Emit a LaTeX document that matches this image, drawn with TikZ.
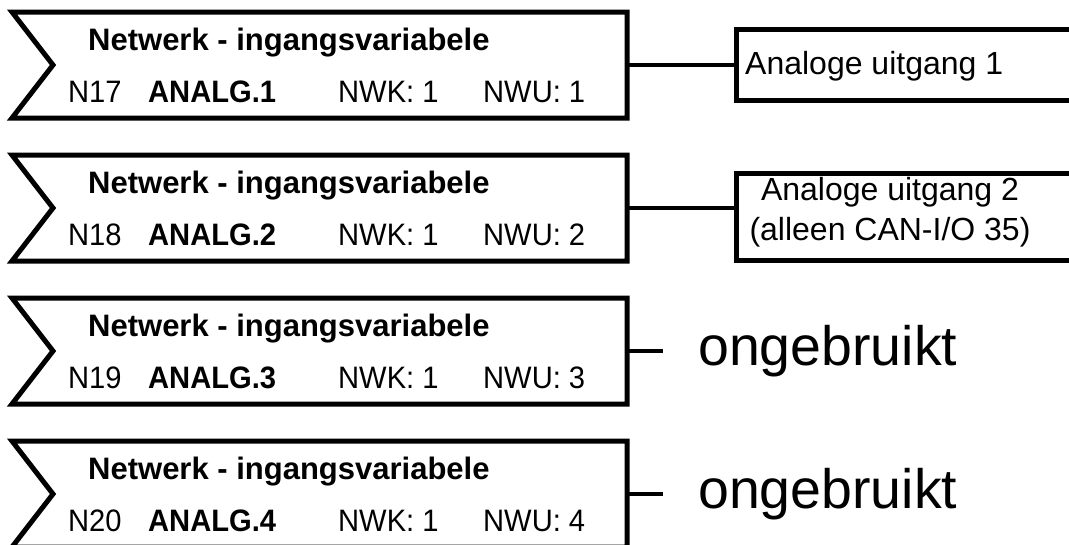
\documentclass[tikz,border=0pt]{standalone}
\usepackage{fontspec}
\usepackage{graphicx}
\setmainfont{Liberation Sans}
\newcommand{\narrowtxt}[1]{\scalebox{0.94}[1]{#1}}
\begin{document}
\begin{tikzpicture}[x=1pt,y=-1pt,
  blk/.style={draw=none,minimum width=615pt,minimum height=106pt,inner sep=0pt,outer sep=0pt,anchor=north west},
  outl/.style={line width=5pt,line join=miter},
  conn/.style={line width=4pt},
  obox/.style={draw,line width=5pt,minimum width=420pt,inner sep=0pt,outer sep=0pt,anchor=north west},
  hd/.style={font=\fontsize{31}{31}\selectfont\bfseries,anchor=base west,inner sep=0pt},
  txt/.style={font=\fontsize{31}{31}\selectfont,anchor=base west,inner sep=0pt},
  btxt/.style={font=\fontsize{31}{31}\selectfont\bfseries,anchor=base west,inner sep=0pt},
  otxt/.style={font=\fontsize{32}{32}\selectfont,inner sep=0pt},
  big/.style={font=\fontsize{55.5}{55.5}\selectfont,anchor=base west,inner sep=0pt}]
\clip (0,0) rectangle (1069,544);
\useasboundingbox (0,0) rectangle (1069,544);
\foreach \i/\t/\n/\w in {1/12/17/1,2/155/18/2,3/298/19/3,4/441/20/4}{
  \node[blk] (b\i) at (12,\t) {};
  \draw[outl] (b\i.north west) -- (b\i.north east) -- (b\i.south east) -- (b\i.south west) -- ([xshift=41pt]b\i.west) -- cycle;
  \node[hd] (h\i) at (88,\t+38) {Netwerk - ingangsvariabele};
  \node[txt] (n\i) at (68,\t+90) {\narrowtxt{N\n}};
  \node[btxt] (a\i) at (148,\t+90) {\narrowtxt{ANALG.\i}};
  \node[txt] (k\i) at (338,\t+90) {\narrowtxt{NWK: 1}};
  \node[txt] (u\i) at (483,\t+90) {\narrowtxt{NWU: \w}};
}
% output 1
\node[obox,minimum height=71pt] (o1) at (736,29) {};
\node[otxt,anchor=base west] (t1) at (745,74) {Analoge uitgang 1};
\draw[conn] (b1.east) -- (o1.west |- b1.east);
% output 2
\node[obox,minimum height=87pt] (o2) at (736,173) {};
\node[otxt,anchor=base] (t2a) at (890,200) {Analoge uitgang 2};
\node[otxt,anchor=base] (t2b) at (890,240) {(alleen CAN-I/O 35)};
\draw[conn] (b2.east) -- (o2.west |- b2.east);
% unused
\coordinate (e3) at (663,351);
\coordinate (e4) at (663,494);
\draw[conn] (b3.east) -- (e3);
\draw[conn] (b4.east) -- (e4);
\node[big] (g3) at (698,365) {ongebruikt};
\node[big] (g4) at (698,508) {ongebruikt};
\end{tikzpicture}
\end{document}
